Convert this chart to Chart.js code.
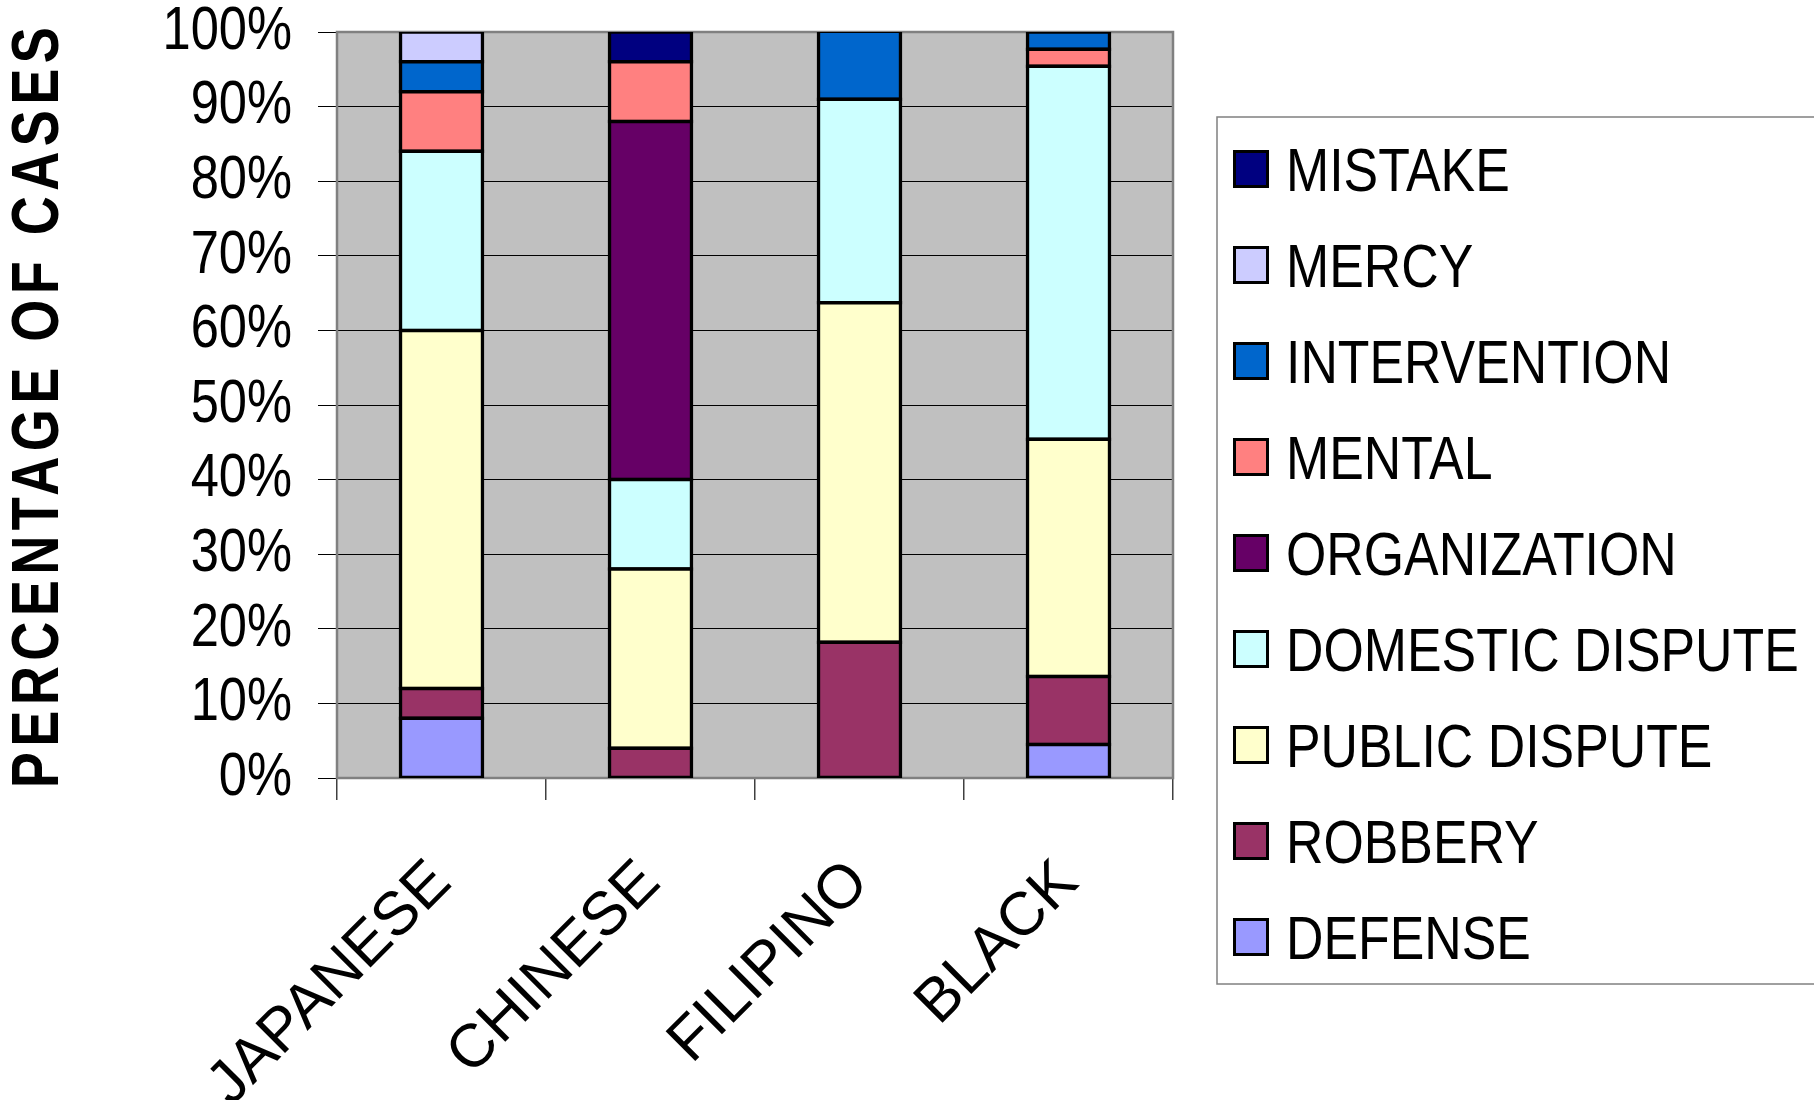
<!DOCTYPE html>
<html>
<head>
<meta charset="utf-8">
<title>Percentage of cases</title>
<script src="https://cdn.jsdelivr.net/npm/chart.js"></script>
<style>
  html, body { margin: 0; padding: 0; background: #ffffff; }
  #wrap { position: relative; width: 1814px; height: 1100px; }
</style>
</head>
<body>
<div id="wrap"><canvas id="casesChart"></canvas></div>
<script>
// Categories and series (percent of cases), bottom segment first
const categories = ['JAPANESE', 'CHINESE', 'FILIPINO', 'BLACK'];
const defense      = [8, 0, 0, 4.5];
const robbery      = [4, 4, 18.2, 9.1];
const publicDisp   = [48, 24, 45.5, 31.8];
const domesticDisp = [24, 12, 27.3, 50];
const organization = [0, 48, 0, 0];
const mental       = [8, 8, 0, 2.3];
const intervention = [4, 0, 9.1, 2.3];
const mercy        = [4, 0, 0, 0];
const mistake      = [0, 4, 0, 0];

const seriesNames  = ['DEFENSE', 'ROBBERY', 'PUBLIC DISPUTE', 'DOMESTIC DISPUTE', 'ORGANIZATION', 'MENTAL', 'INTERVENTION', 'MERCY', 'MISTAKE'];
const seriesValues = [defense, robbery, publicDisp, domesticDisp, organization, mental, intervention, mercy, mistake];
const seriesColors = ['#9999FF', '#993366', '#FFFFCC', '#CCFFFF', '#660066', '#FF8080', '#0066CC', '#CCCCFF', '#000080'];

const yTickValues = [0, 10, 20, 30, 40, 50, 60, 70, 80, 90, 100];

const labelFont = "'Liberation Sans', Arial, sans-serif";
// the original text is horizontally squeezed (narrow Arial look)
const squeeze = 0.83;

// grey plot area background + frame
const plotFrame = {
    id: 'plotFrame',
    beforeDraw(chart) {
        const a = chart.chartArea;
        const ctx = chart.ctx;
        ctx.save();
        ctx.fillStyle = '#C0C0C0';
        ctx.fillRect(a.left, a.top, a.right - a.left, a.bottom - a.top);
        ctx.restore();
    },
    beforeDatasetsDraw(chart) {
        const a = chart.chartArea;
        const ctx = chart.ctx;
        ctx.save();
        ctx.strokeStyle = '#808080';
        ctx.lineWidth = 2.5;
        ctx.strokeRect(a.left, a.top, a.right - a.left, a.bottom - a.top);
        ctx.restore();
    }
};

// squeeze the y tick labels and the condensed, spaced axis title
const narrowYAxis = {
    id: 'narrowYAxis',
    afterLayout(chart) {
        const s = chart.scales.y;
        if (s._squeezed) return;
        const origLabels = s.drawLabels;
        const origTitle = s.drawTitle;
        s.drawLabels = function(area) {
            const c = this.ctx;
            const pivot = this.right - this.options.grid.tickLength - this.options.ticks.padding;
            c.save();
            c.translate(pivot, 0);
            c.scale(squeeze, 1);
            c.translate(-pivot, 0);
            origLabels.call(this, area);
            c.restore();
        };
        s.drawTitle = function() {
            const c = this.ctx;
            const mid = (this.top + this.bottom) / 2;
            c.save();
            c.translate(0, mid);
            c.scale(1, 0.82);
            c.translate(0, -mid);
            c.letterSpacing = '6.6px';
            origTitle.call(this);
            c.restore();
        };
        s._squeezed = true;
    }
};

// boxed legend on the right, top series first
const boxLegend = {
    id: 'boxLegend',
    afterDraw(chart) {
        const ctx = chart.ctx;
        const sets = chart.data.datasets.slice().reverse();
        ctx.save();
        ctx.strokeStyle = '#808080';
        ctx.lineWidth = 1.5;
        ctx.strokeRect(1217, 117, 640, 867);
        sets.forEach((ds, i) => {
            const cy = 169 + i * 96;
            ctx.fillStyle = ds.backgroundColor;
            ctx.fillRect(1233, cy - 19, 36, 38);
            ctx.strokeStyle = '#000000';
            ctx.lineWidth = 3;
            ctx.strokeRect(1234.5, cy - 17.5, 33, 35);
            ctx.save();
            ctx.translate(1286, cy + 22);
            ctx.scale(0.85, 1);
            ctx.font = '61px ' + labelFont;
            ctx.textBaseline = 'alphabetic';
            ctx.textAlign = 'left';
            ctx.fillStyle = '#000000';
            ctx.fillText(ds.label, 0, 0);
            ctx.restore();
        });
        ctx.restore();
    }
};

const ctx = document.getElementById('casesChart');
new Chart(ctx, {
    type: 'bar',
    data: {
        labels: categories,
        datasets: seriesNames.map((name, i) => ({
            label: name,
            data: seriesValues[i],
            backgroundColor: seriesColors[i],
            borderColor: '#000000',
            borderWidth: 3.5,
            borderSkipped: false,
            inflateAmount: 1.75,
            barPercentage: 0.393,
            categoryPercentage: 1.0
        }))
    },
    options: {
        responsive: true,
        maintainAspectRatio: false,
        animation: false,
        layout: {
            padding: { left: 0, top: 32, right: 641, bottom: 0 }
        },
        plugins: {
            legend: { display: false },
            tooltip: { enabled: false }
        },
        scales: {
            x: {
                stacked: true,
                afterFit: function(scale) { scale.height = 322; },
                border: { display: false },
                grid: {
                    offset: true,
                    drawOnChartArea: false,
                    drawTicks: true,
                    tickLength: 22,
                    color: '#404040',
                    lineWidth: 1.5
                },
                ticks: {
                    autoSkip: false,
                    maxRotation: 45,
                    minRotation: 45,
                    padding: 47,
                    color: '#000000',
                    font: { family: labelFont, size: 61 }
                }
            },
            y: {
                stacked: true,
                min: 0,
                max: 100,
                afterFit: function(scale) {
                    scale.width = 337;
                    scale.paddingTop = 0;
                    scale.paddingBottom = 0;
                },
                afterBuildTicks: function(scale) {
                    scale.ticks = yTickValues.map(v => ({ value: v }));
                },
                border: { display: false },
                grid: {
                    color: '#000000',
                    lineWidth: 1,
                    drawTicks: true,
                    tickLength: 19
                },
                ticks: {
                    autoSkip: false,
                    padding: 26,
                    color: '#000000',
                    font: { family: labelFont, size: 61 },
                    callback: function(value) { return value + '%'; }
                },
                title: {
                    display: true,
                    text: 'PERCENTAGE OF CASES',
                    color: '#000000',
                    padding: { top: 0, bottom: 0 },
                    font: { family: labelFont, size: 66, weight: 'bold' }
                }
            }
        }
    },
    plugins: [plotFrame, narrowYAxis, boxLegend]
});
</script>
</body>
</html>
